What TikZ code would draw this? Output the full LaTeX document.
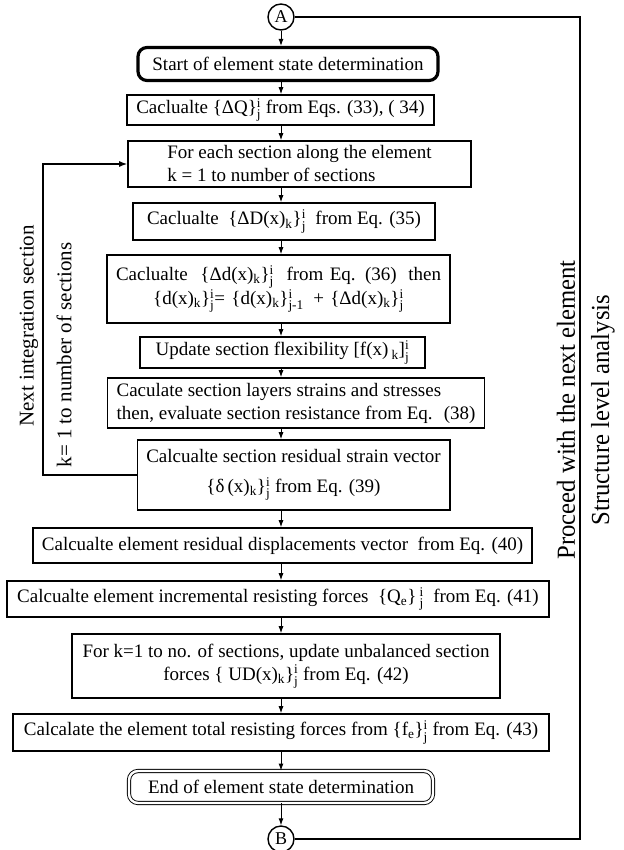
\documentclass[tikz,border=0pt]{standalone}
\usepackage{amsmath}
\usepackage{fontspec}
\setmainfont{Liberation Serif}
\usetikzlibrary{arrows.meta}

\newcommand{\sij}[2]{\ensuremath{^{\text{#1}}_{\text{#2}}}}
\newcommand{\sk}[1]{\ensuremath{_{\text{#1}}}}

\tikzset{
  flowbox/.style={draw,line width=1.6pt,inner xsep=9pt,inner ysep=3pt,font=\fontsize{19}{23}\selectfont},
  startbox/.style={flowbox,rounded corners=9pt,line width=3.2pt},
  endbox/.style={flowbox,rounded corners=9pt,line width=0.9pt,double,double distance=2.4pt},
  conn/.style={draw,circle,line width=1.4pt,minimum size=26pt,inner sep=0pt,font=\fontsize{18}{20}\selectfont},
  arr/.style={line width=0.9pt,-{Latex[length=7pt,width=5pt]}},
  loopline/.style={line width=1.4pt},
  sidetext/.style={rotate=90,font=\fontsize{21}{24}\selectfont},
  bigside/.style={rotate=90,font=\fontsize{26}{30}\selectfont}
}

\begin{document}
\begin{tikzpicture}[x=1pt,y=-1pt]
    \useasboundingbox (0,0) rectangle (623,850);
    \coordinate (axis) at (281,0);
    \coordinate (loopx) at (43,0);
    \coordinate (backx) at (580,0);

    % main column
    \node[conn] (A) at (281,17) {A};
    \node[startbox,minimum width=300pt,minimum height=33pt] (start) at (288,64) {Start of element state determination};
    \node[flowbox,minimum width=305pt,minimum height=30pt] (dQ) at (280.5,110) {Caclualte \{ΔQ\}\sij{i}{j} from Eqs. (33), ( 34)};
    \node[flowbox,minimum width=343pt,minimum height=46pt,align=left] (sec) at (299.5,164) {For each section along the element\\k = 1 to number of sections};
    \node[flowbox,minimum width=302pt,minimum height=37pt] (dD) at (284,221.5) {Caclualte \ \{ΔD(x)\sk{k}\}\sij{i}{j} \ from Eq. (35)};
    \node[flowbox,minimum width=343pt,minimum height=68pt,text width=325pt,align=center] (dd) at (278.5,289) {Caclualte \ \{Δd(x)\sk{k}\}\sij{i}{j} \ from Eq. (36)\hfill then\\\{d(x)\sk{k}\}\sij{i}{j}= \{d(x)\sk{k}\}\sij{i}{j-1} \,+ \{Δd(x)\sk{k}\}\sij{i}{j}};
    \node[flowbox,minimum width=285pt,minimum height=31pt] (upd) at (282.5,352.5) {Update section flexibility [f(x)\,\sk{k}]\sij{i}{j}};
    \node[flowbox,minimum height=50pt,align=left] (lay) at (296,403) {Caculate section layers strains and stresses\\then, evaluate section resistance from Eq. \ (38)};
    \node[flowbox,minimum width=303pt,minimum height=70pt,align=center] (res) at (293.5,475) {Calcualte section residual strain vector\\[7pt]\{δ\,(x)\sk{k}\}\sij{i}{j} from Eq. (39)};
    \node[flowbox,minimum width=491pt,minimum height=35pt] (e40) at (282.5,545.5) {Calcualte element residual displacements vector \ from Eq. (40)};
    \node[flowbox,minimum width=542pt,minimum height=36pt] (e41) at (278,599) {Calcualte element incremental resisting forces \ \{Q\sk{e}\}\,\sij{i}{j} \ from Eq. (41)};
    \node[flowbox,minimum width=428pt,minimum height=64pt,align=center] (fork) at (286,666) {For k=1 to no. of sections, update unbalanced section\\forces \{ UD(x)\sk{k}\}\sij{i}{j} from Eq. (42)};
    \node[flowbox,minimum width=536pt,minimum height=37pt] (e43) at (281,732.5) {Calcalate the element total resisting forces from \{f\sk{e}\}\sij{i}{j} from Eq. (43)};
    \node[endbox,minimum width=304pt,minimum height=32pt] (endb) at (281,787) {End of element state determination};
    \node[conn] (B) at (281,839) {B};

    \foreach \u/\v in {A/start,start/dQ,dQ/sec,sec/dD,dD/dd,dd/upd,upd/lay,lay/res,res/e40,e40/e41,e41/fork,fork/e43,e43/endb,endb/B}
        \draw[arr] (axis |- \u.south) -- (axis |- \v.north);

    % loop over the sections
    \draw[loopline,-{Latex[length=8pt,width=6pt]}] (res.west) -- (loopx |- res.west) -- (loopx |- sec.west) -- (sec.west);
    \node[sidetext] (nextlbl) at (29,326) {Next integration section};
    \node[sidetext] (klbl) at (64,355) {k= 1 to number of sections};

    % loop over the elements
    \draw[loopline] (B.east) -- (backx |- B.east) -- (backx |- A.east) -- (A.east);
    \node[bigside] (proclbl) at (566,410) {\scalebox{0.95}[1]{Proceed with the next element}};
    \node[bigside] (structlbl) at (603,410) {\scalebox{0.95}[1]{Structure level analysis}};
\end{tikzpicture}
\end{document}
